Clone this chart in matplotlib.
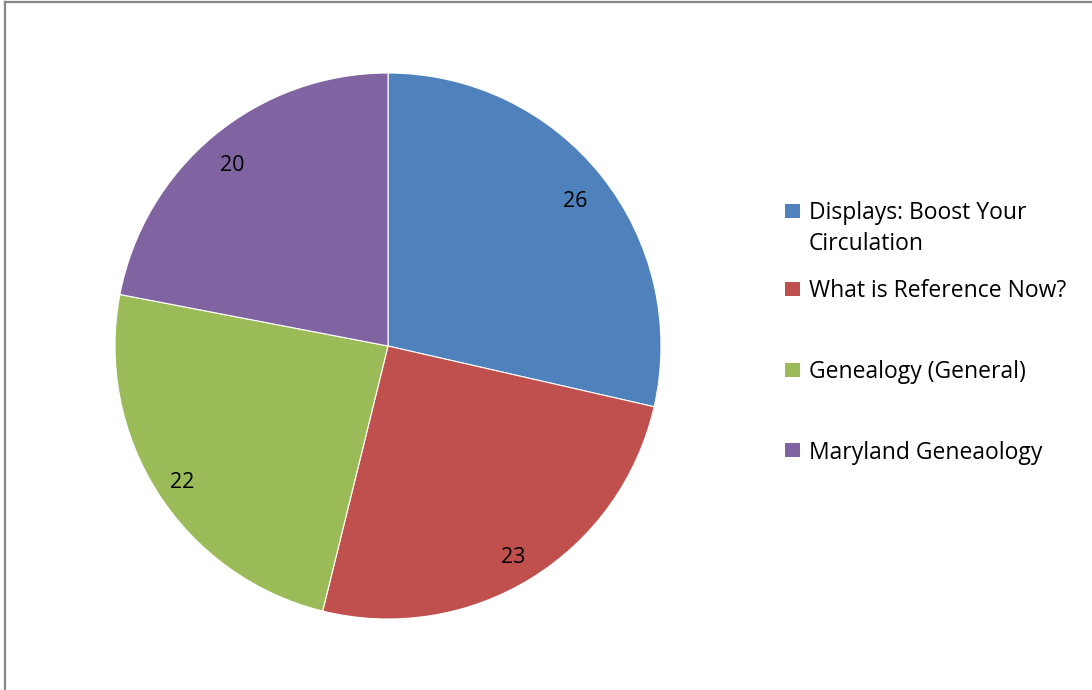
import matplotlib
matplotlib.use("Agg")
import matplotlib.pyplot as plt
from matplotlib.patches import Rectangle
from matplotlib.lines import Line2D

categories = ["Displays: Boost Your\nCirculation", "What is Reference Now?",
              "Genealogy (General)", "Maryland Geneaology"]
values = [26, 23, 22, 20]
colors = ["#4F81BD", "#C0504D", "#9BBB59", "#8064A2"]

plt.rcParams["font.family"] = ["Open Sans", "DejaVu Sans"]

W, H = 1092, 690
fig = plt.figure(figsize=(W / 100, H / 100), dpi=100)
fig.patch.set_facecolor("white")

# pie area: centre (388, 346) px, radius 273 px
cx, cy, r = 388, 346, 273
ax = fig.add_axes([(cx - r) / W, (H - cy - r) / H, 2 * r / W, 2 * r / H])
total = sum(values)
wedges, _, autotexts = ax.pie(
    values, colors=colors, startangle=90, counterclock=False,
    autopct=lambda p: f"{round(p * total / 100)}", pctdistance=0.885,
    wedgeprops=dict(edgecolor="white", linewidth=0.8),
    textprops=dict(fontsize=15.5, color="black"),
)
for t in autotexts:
    x, y = t.get_position()
    t.set_position((x - 2 / r, y - 6 / r))
ax.set_xlim(-1, 1)
ax.set_ylim(-1, 1)
ax.set_aspect("equal")
ax.axis("off")

# legend: square centre y and first baseline y (px from top)
legend_rows = [(211, 219), (289, 297), (370, 378), (450, 459)]
line_gap = 31
sq_w, sq_h = 15, 14
for lab, col, (ym, yb) in zip(categories, colors, legend_rows):
    fig.patches.append(Rectangle((785 / W, (H - ym - sq_h / 2) / H), sq_w / W, sq_h / H,
                                 transform=fig.transFigure, facecolor=col,
                                 edgecolor="none"))
    for i, line in enumerate(lab.split("\n")):
        fig.text(809 / W, (H - yb - i * line_gap) / H, line, fontsize=16.5,
                 va="baseline", ha="left", color="black")

# chart-area border (left and top edges)
gray = "#878787"
fig.add_artist(Line2D([5 / W, 5 / W], [0, 1 - 2 / H], transform=fig.transFigure,
                      color=gray, linewidth=1.6))
fig.add_artist(Line2D([5 / W, 1], [1 - 2 / H, 1 - 2 / H], transform=fig.transFigure,
                      color=gray, linewidth=1.6))

fig.savefig("out.png", dpi=100, facecolor="white")
